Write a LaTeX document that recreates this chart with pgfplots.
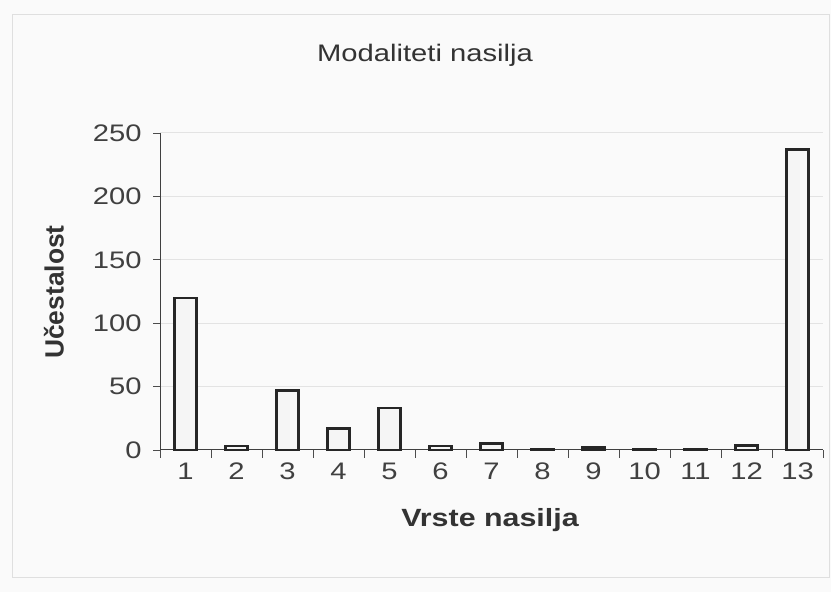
\documentclass[border=0pt]{standalone}
\usepackage{fontspec}
\setmainfont{Liberation Sans}
\newfontfamily\widefont{Liberation Sans}[FakeStretch=1.22]
\usepackage{pgfplots}
\pgfplotsset{compat=1.18}
\begin{document}
\begin{tikzpicture}[x=1bp,y=1bp]
\path[use as bounding box, fill=black!2] (0,0) rectangle (831,592);
\draw[gray!25, line width=1bp] (12,14) rectangle (829,577);
\begin{axis}[
  at={(160bp,142bp)}, anchor=south west,
  scale only axis, width=663bp, height=317bp,
  xmin=0.5, xmax=13.5, ymin=0, ymax=250,
  axis lines=left,
  axis line style={black!75, line width=1bp, -},
  xtick={1,...,13},
  xticklabels={1,2,3,4,5,6,7,8,9,10,11,12,13},
  major x tick style={draw=none},
  minor xtick={0.5,1.5,...,13.5},
  minor x tick style={black!70, line width=0.8bp},
  minor tick length=8bp,
  ytick={0,50,...,250},
  major y tick style={black!70, line width=0.8bp},
  major tick length=7bp,
  tick align=outside,
  ymajorgrids,
  grid style={gray!22, line width=1bp},
  /pgf/number format/assume math mode=true,
  ticklabel style={font=\fontsize{24}{28}\widefont, text=black!75},
  xticklabel style={anchor=north, text height=17bp, text depth=0bp, yshift=-2bp},
  yticklabel style={xshift=-8bp},
  clip=false,
]
\addplot[ybar, bar width=22bp, fill=black!4, draw=black!85, line width=2.4bp]
coordinates {(1,120) (2,3) (3,47) (4,17) (5,33) (6,3) (7,5) (8,1) (9,2) (10,1) (11,1) (12,3.5) (13,237)};
\end{axis}
\node[font=\fontsize{24}{28}\widefont, text=black!80] at (425,537) {Modaliteti nasilja};
\node[font=\fontsize{25}{30}\widefont\bfseries, text=black!80] at (490,72) {Vrste nasilja};
\node[font=\fontsize{26.5}{30}\selectfont\bfseries, text=black!80, rotate=90] at (54,300) {Učestalost};
\end{tikzpicture}
\end{document}
